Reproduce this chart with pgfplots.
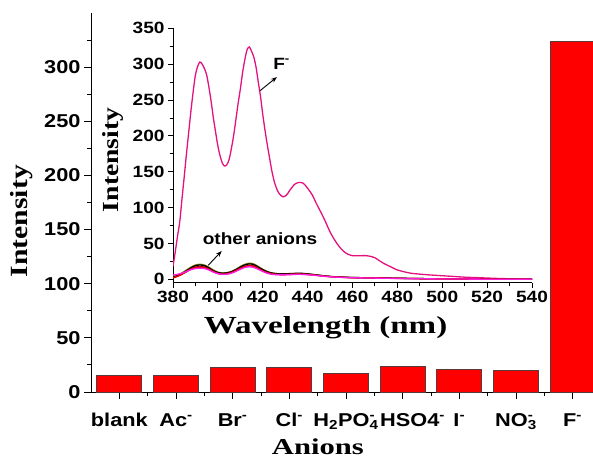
\documentclass[border=0pt]{standalone}
\usepackage{fontspec}
\setmainfont{Liberation Serif}
\newfontfamily\tickf{Liberation Sans Bold}[FakeStretch=1.17]
\newfontfamily\labf{Liberation Serif Bold}[FakeStretch=1.2]
\newfontfamily\labw{Liberation Serif Bold}[FakeStretch=1.35]
\usepackage{pgfplots}
\pgfplotsset{compat=1.18}
\usetikzlibrary{arrows.meta}

\definecolor{fpink}{HTML}{E3127F}
\definecolor{olivel}{HTML}{8C8A1E}
\definecolor{darkr}{HTML}{8B0A0A}
\definecolor{redl}{HTML}{E80000}
\definecolor{magl}{HTML}{FF1AE6}
\definecolor{barline}{HTML}{5A3A3A}

\begin{document}
\begin{tikzpicture}

% main bar chart
\begin{axis}[
    name=main,
    scale only axis, width=502pt, height=379pt,
    at={(91pt,67pt)}, anchor=south west,
    xmin=0.5, xmax=9.36, ymin=0, ymax=350,
    axis lines*=left,
    axis line style={line width=1pt},
    tick style={black, line width=0.9pt},
    tick align=outside,
    major tick length=7pt, minor tick length=4pt,
    ytick={0,50,...,300},
    minor ytick={25,75,...,325},
    xtick={1,...,9},
    minor xtick={1.5,2.5,...,8.5},
    xticklabels={blank, Ac\textsuperscript{-}, Br\textsuperscript{-}, Cl\textsuperscript{-},
        H\textsubscript{2}PO\rlap{\textsuperscript{-}}\textsubscript{4}, \hspace*{20pt}HSO4\textsuperscript{-},
        I\textsuperscript{-}, NO\rlap{\textsuperscript{-}}\textsubscript{3}, F\textsuperscript{-}},
    /pgf/number format/assume math mode=true,
    tick label style={font=\tickf\fontsize{18.6}{20}\selectfont},
    xticklabel style={anchor=base, yshift=-27pt},
    ylabel={Intensity},
    ylabel style={font=\labf\fontsize{24.7}{26}\selectfont, at={(axis description cs:-0.139,0.451)}, anchor=center},
    xlabel={Anions},
    xlabel style={font=\labw\fontsize{22.7}{24}\selectfont, at={(axis description cs:0.452,-0.145)}, anchor=center},
]
\addplot[ybar, bar width=45pt, fill=red, draw=barline, line width=0.8pt]
    coordinates {(1,15.6) (2,15.3) (3,22.8) (4,22.8) (5,17.2) (6,23.3) (7,20.9) (8,20.0) (9,324)};
\end{axis}

% inset spectra
\begin{axis}[
    scale only axis, width=359pt, height=254.6pt,
    at={(173pt,176.1pt)}, anchor=south west,
    xmin=380, xmax=540, ymin=-5, ymax=350,
    axis lines*=left,
    axis line style={line width=1pt},
    tick style={black, line width=0.9pt},
    tick align=outside,
    major tick length=5pt, minor tick length=3pt,
    xtick={380,400,...,540}, minor x tick num=1,
    ytick={0,50,...,350}, minor y tick num=1,
    /pgf/number format/assume math mode=true,
    tick label style={font=\tickf\fontsize{16.3}{18}\selectfont},
    xlabel={Wavelength (nm)},
    xlabel style={font=\labw\fontsize{24.5}{26}\selectfont, at={(axis description cs:0.425,-0.177)}, anchor=center},
    ylabel={Intensity},
    ylabel style={font=\labf\fontsize{23}{25}\selectfont, at={(axis description cs:-0.167,0.483)}, anchor=center},
    every axis plot/.append style={line width=1.3pt, smooth},
]
% F- spectrum
\addplot[fpink] coordinates {
(380,18) (381,38) (382,60) (383,80) (384,112) (385,143) (386,175) (387,205) (388,235) (389,262)
(390,285) (391,297) (392,303) (393,300) (394,294) (395,285) (396,268) (397,248) (398,225) (399,205)
(400,186) (401,172) (402,162) (403,158) (404,160) (405,167) (406,182) (407,200) (408,222) (409,245)
(410,265) (411,288) (412,306) (413,320) (414,324) (415,318) (416,310) (417,296) (418,275) (419,255)
(420,230) (421,208) (422,188) (423,170) (424,152) (425,138) (426,128) (427,121) (428,117) (429,115)
(430,116) (431,119) (432,124) (433,128) (434,132) (435,134) (436,135) (437,135) (438,134) (439,131)
(440,127) (442,118) (444,105) (446,93) (448,80) (450,66) (452,55) (454,46) (456,39) (458,35)
(460,33) (462,33) (464,33) (466,33) (468,32) (470,30) (472,26) (474,22) (476,19) (478,16)
(480,13) (483,10.5) (486,8.5) (490,7.2) (495,6) (500,5) (505,4) (510,3) (515,2.4) (520,1.8)
(525,1.2) (530,0.8) (535,0.5) (540,0.3)};
% other anions
\addplot[olivel] coordinates {
(380,4) (382,6) (384,9) (386,13) (388,17) (390,20) (392,21) (394,20) (396,17) (398,13)
(400,10) (402,9) (404,9.5) (406,11) (408,14) (410,18) (412,21) (414,22.5) (416,21.5) (418,18)
(420,14) (422,11) (424,9) (426,8) (428,7.5) (430,7.5) (432,7.8) (434,8) (436,8.2) (438,8)
(440,7.5) (444,6) (448,4.5) (452,3.5) (456,3) (460,2.5) (470,2) (480,1.5) (490,1) (500,0.7)
(520,0.3) (540,0.1)};
\addplot[black] coordinates {
(380,3) (382,5) (384,8) (386,12) (388,16) (390,19) (392,20) (394,19) (396,16) (398,12)
(400,9.5) (402,8.5) (404,9) (406,10.5) (408,13.5) (410,17) (412,20) (414,21.5) (416,20.5) (418,17)
(420,13.5) (422,10.5) (424,8.8) (426,8) (428,7.6) (430,7.6) (432,8) (434,8.2) (436,8.5) (438,8.2)
(440,7.6) (444,6.2) (448,4.6) (452,3.6) (456,3) (460,2.5) (470,2) (480,1.5) (490,1) (500,0.7)
(520,0.3) (540,0.1)};
\addplot[darkr] coordinates {
(380,2.5) (382,4.5) (384,7.5) (386,11) (388,14.5) (390,17) (392,18) (394,17) (396,14.5) (398,11)
(400,8.5) (402,7.5) (404,8) (406,9.5) (408,12.5) (410,15.5) (412,18) (414,19.5) (416,18.5) (418,15.5)
(420,12) (422,9.5) (424,8) (426,7.2) (428,7) (430,7) (432,7.2) (434,7.5) (436,7.6) (438,7.4)
(440,7) (444,5.8) (448,4.4) (452,3.4) (456,2.8) (460,2.4) (470,1.9) (480,1.4) (490,1) (500,0.7)
(520,0.3) (540,0.1)};
\addplot[redl] coordinates {
(380,2) (382,4) (384,7) (386,10.5) (388,14) (390,16.5) (392,17) (394,16.5) (396,14) (398,10.5)
(400,8) (402,7) (404,7.5) (406,9) (408,12) (410,15) (412,17.5) (414,19) (416,18) (418,15)
(420,11.5) (422,9) (424,7.5) (426,6.8) (428,6.5) (430,6.5) (432,6.8) (434,7) (436,7.2) (438,7)
(440,6.6) (444,5.5) (448,4.2) (452,3.3) (456,2.7) (460,2.3) (470,1.8) (480,1.3) (490,0.9) (500,0.6)
(520,0.3) (540,0.1)};
\addplot[magl] coordinates {
(380,6) (382,7) (384,8.5) (386,11) (388,13.5) (390,15) (392,15.5) (394,15) (396,13) (398,10)
(400,8) (402,7) (404,7.2) (406,8.5) (408,11) (410,14) (412,16.5) (414,17.5) (416,16.5) (418,14)
(420,11) (422,8.5) (424,7) (426,6.5) (428,6.2) (430,6.2) (432,6.5) (434,6.8) (436,7) (438,6.8)
(440,6.4) (444,5.3) (448,4) (452,3.2) (456,2.6) (460,2.2) (470,1.7) (480,1.2) (490,0.8) (500,0.5)
(520,0.2) (540,0.1)};
\draw[-{Stealth[length=6pt]}, line width=0.9pt] (axis cs:418.8,263) -- (axis cs:426.3,282);
\node[font=\tickf\fontsize{16.3}{18}\selectfont] at (axis cs:428.4,301) {F\textsuperscript{-}};
\draw[-{Stealth[length=6pt]}, line width=0.9pt] (axis cs:395.7,19.5) -- (axis cs:401.7,39.5);
\node[font=\tickf\fontsize{16.3}{18}\selectfont] at (axis cs:418.8,56.8) {other anions};
\end{axis}
\pgfresetboundingbox
\useasboundingbox (0pt,0pt) rectangle (593pt,459pt);
\end{tikzpicture}
\end{document}
